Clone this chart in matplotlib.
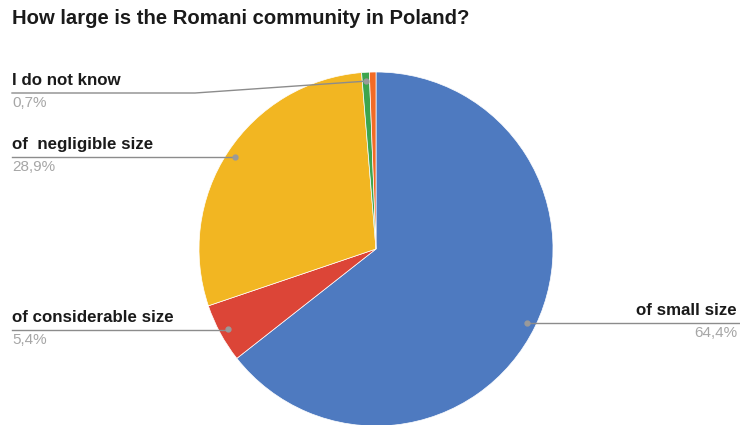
import matplotlib.pyplot as plt
import numpy as np

plt.rcParams['font.family'] = ['Liberation Sans', 'DejaVu Sans']

title = "How large is the Romani community in Poland?"
answers = ["of small size", "of considerable size", "of  negligible size", "I do not know", "other"]
shares = [64.4, 5.4, 28.9, 0.7, 0.6]
colors = ["#4e7ac0", "#dc4537", "#f2b622", "#3da54d", "#f26b26"]
pct_labels = ["64,4%", "5,4%", "28,9%", "0,7%", None]

W, H = 740, 425
fig = plt.figure(figsize=(W / 100, H / 100), dpi=100)
ax = fig.add_axes([0, 0, 1, 1])

cx, cy, R = 376, H - 249, 177
ax.pie(shares, colors=colors, startangle=90, counterclock=False,
       center=(cx, cy), radius=R, frame=True,
       wedgeprops=dict(linewidth=0.5, edgecolor="white"))
ax.set_xlim(0, W)
ax.set_ylim(0, H)
ax.axis("off")
for p in ax.patches:
    p.set_clip_on(False)

# label anchors: (text x, line y, side)
anchors = {
    "of small size": (737, H - 323, "right"),
    "of considerable size": (12, H - 330, "left"),
    "of  negligible size": (12, H - 157, "left"),
    "I do not know": (12, H - 93, "left"),
}

gray = "#8c8c8c"
cum = np.cumsum([0] + shares[:-1])
for name, s, c0, pct in zip(answers, shares, cum, pct_labels):
    if name not in anchors:
        continue
    mid = np.deg2rad(90 - (c0 + s / 2) / 100 * 360)
    dx, dy = cx + 0.95 * R * np.cos(mid), cy + 0.95 * R * np.sin(mid)
    tx, ly, side = anchors[name]
    if side == "left":
        if abs(dy - ly) > 3:
            bend = 195
            ax.plot([tx, bend, dx], [ly, ly, dy], color=gray, lw=1)
        else:
            ax.plot([tx, dx], [ly, ly], color=gray, lw=1)
        ha = "left"
    else:
        ax.plot([dx, W], [ly, ly], color=gray, lw=1)
        ha = "right"
    ax.plot(dx, dy, "o", color="#9a9a9a", ms=3.5)
    ax.text(tx, ly + 5, name, ha=ha, va="bottom", fontsize=12.2,
            fontweight="bold", color="#1a1a1a")
    ax.text(tx, ly - 3, pct, ha=ha, va="top", fontsize=11, color="#a6a6a6")

fig.text(12 / W, 1 - 18 / H, title, ha="left", va="center", fontsize=14.6,
         fontweight="bold", color="#1a1a1a")

fig.savefig("out.png", dpi=100)
